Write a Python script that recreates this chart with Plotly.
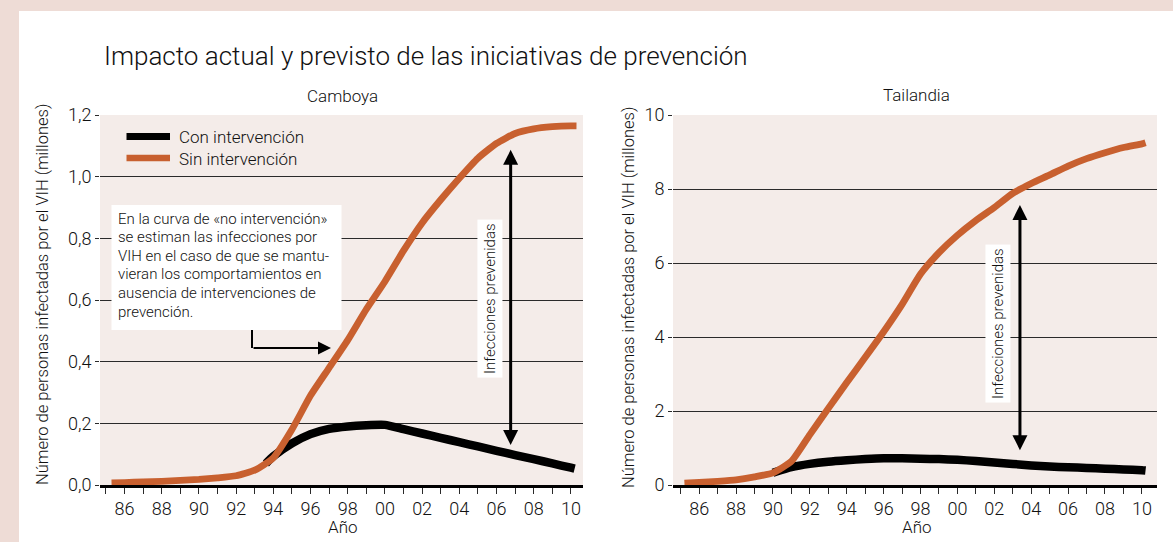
import plotly.graph_objects as go

# Datos (millones de personas infectadas por el VIH)
camboya_anios_sin = [1985.3, 1986, 1987, 1988, 1989, 1990, 1991, 1992, 1993, 1994, 1995, 1996, 1997,
                     1998, 1999, 2000, 2001, 2002, 2003, 2004, 2005, 2006, 2007, 2008, 2009, 2010, 2010.3]
camboya_sin = [0.007, 0.008, 0.010, 0.012, 0.015, 0.018, 0.023, 0.030, 0.048, 0.088, 0.18, 0.29, 0.38,
               0.47, 0.57, 0.66, 0.76, 0.85, 0.925, 0.995, 1.06, 1.108, 1.14, 1.155, 1.162, 1.165, 1.165]

camboya_anios_con = [1993.6, 1994, 1995, 1996, 1997, 1998, 1999, 2000, 2001, 2002, 2003, 2004, 2005,
                     2006, 2007, 2008, 2009, 2010, 2010.2]
camboya_con = [0.07, 0.093, 0.135, 0.165, 0.182, 0.19, 0.194, 0.195, 0.181, 0.167, 0.153, 0.139, 0.125,
               0.111, 0.097, 0.084, 0.07, 0.056, 0.053]

tailandia_anios_sin = [1985.2, 1986, 1987, 1988, 1989, 1990, 1991, 1992, 1993, 1994, 1995, 1996, 1997,
                       1998, 1999, 2000, 2001, 2002, 2003, 2004, 2005, 2006, 2007, 2008, 2009, 2010, 2010.2]
tailandia_sin = [0.05, 0.07, 0.10, 0.14, 0.22, 0.33, 0.64, 1.36, 2.07, 2.77, 3.45, 4.14, 4.88,
                 5.7, 6.28, 6.75, 7.15, 7.5, 7.88, 8.15, 8.38, 8.62, 8.82, 8.98, 9.12, 9.22, 9.25]

tailandia_anios_con = [1990, 1991, 1992, 1993, 1994, 1995, 1996, 1997, 1998, 1999, 2000, 2001, 2002,
                       2003, 2004, 2005, 2006, 2007, 2008, 2009, 2010, 2010.2]
tailandia_con = [0.33, 0.48, 0.57, 0.63, 0.67, 0.70, 0.72, 0.72, 0.71, 0.70, 0.68, 0.65, 0.61,
                 0.57, 0.53, 0.50, 0.48, 0.46, 0.44, 0.42, 0.40, 0.39]

# flechas "Infecciones prevenidas": (año, desde, hasta)
flecha_camboya = (2006.76, 0.125, 1.087)
flecha_tailandia = (2003.39, 0.9, 7.57)

anios_ticks = list(range(1985, 2011))
etiquetas_ticks = ["", "86", "", "88", "", "90", "", "92", "", "94", "", "96", "", "98", "",
                   "00", "", "02", "", "04", "", "06", "", "08", "", "10"]

texto_nota = [
    "En la curva de «no intervención»",
    "se estiman las infecciones por",
    "VIH en el caso de que se mantu-",
    "vieran los comportamientos en",
    "ausencia de intervenciones de",
    "prevención.",
]

FUENTE = "Roboto, DejaVu Sans Condensed, sans-serif"
PESO = 300
NARANJA = "#c8602f"
NEGRO = "#000000"
ROSA = "#eedcd6"
FONDO = "#f4ece9"
GRIS = "#2a2a2a"
TEXTO = "#111111"
W, H = 1173, 542


def px(x):
    return x / W


def py(y):
    return 1 - y / H


def fuente(tam):
    return dict(family=FUENTE, size=tam, color=TEXTO, weight=PESO)


fig = go.Figure()


def curva(x, y, color, ancho, eje):
    fig.add_trace(
        go.Scatter(
            x=x, y=y, mode="lines",
            line=dict(color=color, width=ancho, shape="spline", smoothing=0.5),
            xaxis="x" + eje, yaxis="y" + eje,
            showlegend=False, hoverinfo="skip",
        )
    )


curva(camboya_anios_con, camboya_con, NEGRO, 8.5, "")
curva(camboya_anios_sin, camboya_sin, NARANJA, 6.8, "")
curva(tailandia_anios_con, tailandia_con, NEGRO, 8.5, "2")
curva(tailandia_anios_sin, tailandia_sin, NARANJA, 6.8, "2")

ejex = dict(
    tickmode="array", tickvals=anios_ticks, ticktext=etiquetas_ticks,
    ticks="outside", ticklen=6, tickwidth=1.3, tickcolor=GRIS,
    showline=True, linecolor=NEGRO, linewidth=2.5,
    showgrid=False, zeroline=False, automargin=False,
    tickfont=fuente(18),
)
ejey = dict(
    ticks="outside", ticklen=4, tickwidth=1.3, tickcolor=GRIS,
    showline=False, showgrid=True, gridcolor=GRIS, gridwidth=1.3, zeroline=False, automargin=False,
    tickfont=fuente(18),
)

fig.update_layout(
    width=W, height=H, autosize=False,
    margin=dict(l=0, r=0, t=0, b=0, pad=0, autoexpand=False),
    paper_bgcolor="white", plot_bgcolor=FONDO,
    separators=",.",
    showlegend=False, hovermode=False,
    xaxis=dict(ejex, domain=[px(100), px(583)], range=[1984.68, 2010.65], anchor="y"),
    yaxis=dict(ejey, domain=[py(485), py(115)], range=[0, 1.2], dtick=0.2, tickformat=".1f", anchor="x"),
    xaxis2=dict(ejex, domain=[px(673), px(1157)], range=[1984.58, 2010.82], anchor="y2"),
    yaxis2=dict(ejey, domain=[py(485), py(115)], range=[0, 10], dtick=2, anchor="x2"),
)

shapes = [
    # marco rosado
    dict(type="rect", xref="paper", yref="paper", x0=0, x1=px(19), y0=0, y1=1,
         fillcolor=ROSA, line_width=0, layer="below"),
    dict(type="rect", xref="paper", yref="paper", x0=0, x1=1, y0=py(11), y1=1,
         fillcolor=ROSA, line_width=0, layer="below"),
    # leyenda
    dict(type="line", xref="paper", yref="paper", x0=px(126.5), x1=px(170), y0=py(136.5), y1=py(136.5),
         line=dict(color=NEGRO, width=7)),
    dict(type="line", xref="paper", yref="paper", x0=px(126.5), x1=px(170), y0=py(158), y1=py(158),
         line=dict(color=NARANJA, width=6.5)),
    # recuadro de la nota
    dict(type="rect", xref="paper", yref="paper", x0=px(111.5), x1=px(341.5), y0=py(330), y1=py(205),
         fillcolor="white", line_width=0, layer="above"),
    # tramo vertical de la flecha de la nota
    dict(type="line", xref="paper", yref="paper", x0=px(252), x1=px(252), y0=py(330), y1=py(348),
         line=dict(color=NEGRO, width=2)),
]

anot = [
    dict(text="Impacto actual y previsto de las iniciativas de prevención", x=px(102), y=py(56),
         xanchor="left", size=26),
    dict(text="Camboya", x=px(342), y=py(96), size=17),
    dict(text="Tailandia", x=px(917), y=py(95), size=17),
    dict(text="Año", x=px(343), y=py(527), size=17),
    dict(text="Año", x=px(917), y=py(527), size=17),
    dict(text="Número de personas infectadas por el VIH (millones)", x=px(42), y=py(295),
         textangle=-90, size=16.5),
    dict(text="Número de personas infectadas por el VIH (millones)", x=px(628), y=py(298),
         textangle=-90, size=16.5),
    dict(text="Con intervención", x=px(177), y=py(137), xanchor="left", size=17),
    dict(text="Sin intervención", x=px(177), y=py(159), xanchor="left", size=17),
]
for i, linea in enumerate(texto_nota):
    anot.append(dict(text=linea, x=px(116), y=py(218.5 + i * 18.6), xanchor="left", size=15))

for a in anot:
    a["font"] = fuente(a.pop("size"))
    a.update(xref="paper", yref="paper", showarrow=False, yanchor="middle",
             xanchor=a.get("xanchor", "center"))

# flecha acodada de la nota
anot.append(dict(x=px(331), y=py(348), xref="paper", yref="paper", ax=-79, ay=0, axref="pixel", ayref="pixel",
                 text="", showarrow=True, arrowhead=2, arrowsize=1.3, arrowwidth=2, arrowcolor=NEGRO))

# flechas dobles y rótulos verticales
for (anio, y0, y1), xr, yr, tx, ty in [
    (flecha_camboya, "x", "y", 2005.65, 0.603),
    (flecha_tailandia, "x2", "y2", 2002.2, 4.35),
]:
    anot.append(dict(x=anio, y=y1, ax=anio, ay=y0, xref=xr, yref=yr, axref=xr, ayref=yr,
                     text="", showarrow=True, arrowside="end+start",
                     arrowhead=2, startarrowhead=2, arrowsize=1.0, startarrowsize=1.0,
                     arrowwidth=3, arrowcolor=NEGRO))
    anot.append(dict(x=tx, y=ty, xref=xr, yref=yr, text="Infecciones prevenidas", textangle=-90,
                     xanchor="center", yanchor="middle",
                     showarrow=False, bgcolor="white", borderpad=3, font=fuente(15)))

fig.update_layout(shapes=shapes, annotations=anot)

# la página abre con el margen por defecto del <body>; se quita para que el gráfico empiece en 0,0
fig.write_html("out.html", config={"displayModeBar": False},
               post_script="document.body.style.margin='0';")
